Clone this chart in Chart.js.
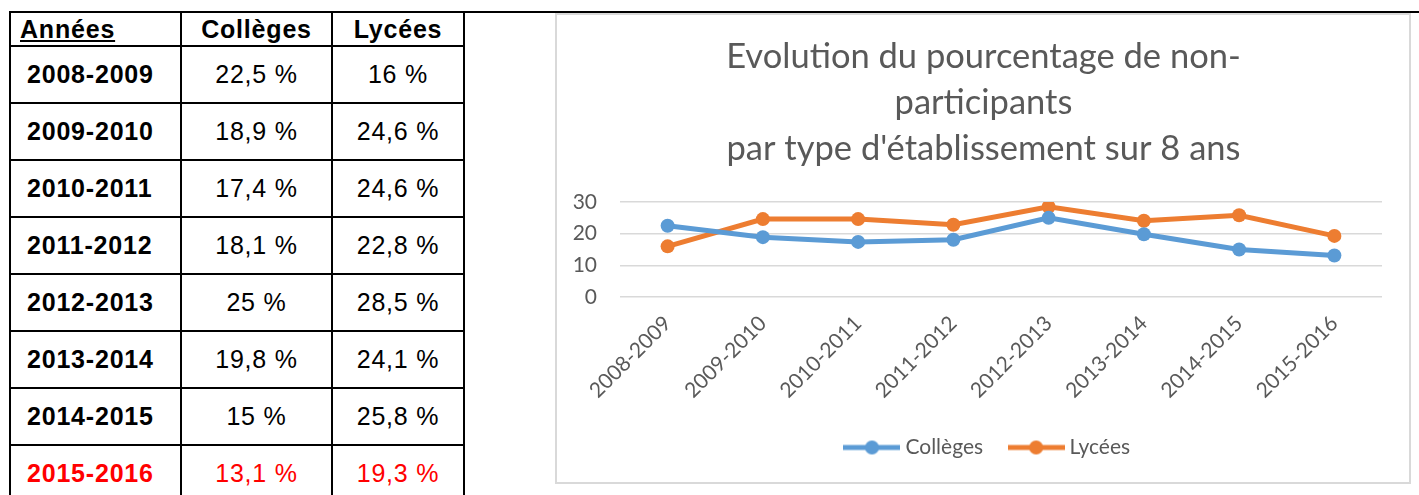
<!DOCTYPE html>
<html>
<head>
<meta charset="utf-8">
<script src="https://cdn.jsdelivr.net/npm/chart.js@4"></script>
<style>
    body { margin: 0; background: #fff; width: 1419px; height: 495px; overflow: hidden; position: relative; }
    .topline { position: absolute; left: 10px; top: 11px; width: 1409px; height: 2px; background: #000; }
    table { position: absolute; left: 9px; top: 11px; border-collapse: collapse; table-layout: fixed;
        font-family: "Liberation Sans", Arial, sans-serif; font-size: 25px; letter-spacing: 0.8px; color: #000; }
    td, th { border: 2px solid #000; padding: 0; text-align: center; font-weight: normal; }
    th { font-weight: bold; height: 32px; }
    th.first { text-align: left; padding-left: 9px; text-decoration: underline; }
    td { height: 55px; }
    td.year { text-align: left; padding-left: 16px; font-weight: bold; }
    tr.red td { color: #ff0000; }
    .box { position: absolute; left: 555px; top: 13px; width: 852px; height: 467px; border: 2px solid #d9d9d9; }
</style>
</head>
<body>
<div class="topline"></div>
<table id="tbl">
    <colgroup><col style="width:171px"><col style="width:151px"><col style="width:132px"></colgroup>
    <thead><tr id="head"></tr></thead>
    <tbody id="rows"></tbody>
</table>
<div class="box"><canvas id="lineChart" width="852" height="467"></canvas></div>

<script>
// Données
const categories = ["2008-2009", "2009-2010", "2010-2011", "2011-2012", "2012-2013", "2013-2014", "2014-2015", "2015-2016"];
const colleges = [22.5, 18.9, 17.4, 18.1, 25, 19.8, 15, 13.1];
const lycees = [16, 24.6, 24.6, 22.8, 28.5, 24.1, 25.8, 19.3];
const headers = ["Années", "Collèges", "Lycées"];
const seriesNames = ["Collèges", "Lycées"];
const yTicks = [0, 10, 20, 30];
const titleLines = ["Evolution du pourcentage de non-", "participants", "par type d'établissement sur 8 ans"];
const highlighted = "2015-2016";

const blue = "#5B9BD5";
const orange = "#ED7D31";

// Tableau
function fmt(v) {
    return String(v).replace(".", ",") + " %";
}

const head = document.getElementById("head");
headers.forEach((h, i) => {
    const th = document.createElement("th");
    th.textContent = h;
    if (i === 0) th.className = "first";
    head.appendChild(th);
});

const rows = document.getElementById("rows");
categories.forEach((c, i) => {
    const tr = document.createElement("tr");
    if (c === highlighted) tr.className = "red";
    tr.innerHTML = '<td class="year">' + c + '</td><td>' + fmt(colleges[i]) + '</td><td>' + fmt(lycees[i]) + '</td>';
    rows.appendChild(tr);
});

// Marqueur de légende (ligne + rond)
function legendMarker(color) {
    const c = document.createElement("canvas");
    c.width = 57;
    c.height = 16;
    const g = c.getContext("2d");
    g.strokeStyle = color;
    g.lineWidth = 5;
    g.beginPath();
    g.moveTo(0, 8);
    g.lineTo(57, 8);
    g.stroke();
    g.fillStyle = color;
    g.beginPath();
    g.arc(28.5, 8, 7, 0, Math.PI * 2);
    g.fill();
    return c;
}

// recentre titre et légende sur tout le cadre
const boxShift = {
    id: "boxShift",
    afterLayout(chart) {
        chart.legend.left += 20;
        chart.legend.right += 20;
        chart.titleBlock.left += 14;
        chart.titleBlock.right += 14;
    }
};

// Graphique
Chart.defaults.font.family = "Lato, 'Open Sans', sans-serif";
Chart.defaults.color = "#595959";

const ctx = document.getElementById("lineChart");

new Chart(ctx, {
    type: "line",
    data: {
        labels: categories,
        datasets: [
            {
                label: seriesNames[0],
                data: colleges,
                borderColor: blue,
                backgroundColor: blue,
                borderWidth: 5,
                pointRadius: 7,
                pointBorderWidth: 0,
                pointBackgroundColor: blue,
                pointStyle: "circle",
                tension: 0
            },
            {
                label: seriesNames[1],
                data: lycees,
                borderColor: orange,
                backgroundColor: orange,
                borderWidth: 5,
                pointRadius: 7,
                pointBorderWidth: 0,
                pointBackgroundColor: orange,
                pointStyle: "circle",
                tension: 0
            }
        ]
    },
    options: {
        responsive: false,
        animation: false,
        layout: {
            padding: { left: 0, right: 27, top: 0, bottom: 14 }
        },
        plugins: {
            title: {
                display: true,
                text: titleLines,
                color: "#595959",
                font: { size: 34.5, weight: "normal", lineHeight: 46 / 34.5 },
                padding: { top: 19, bottom: 30 }
            },
            legend: {
                position: "bottom",
                labels: {
                    usePointStyle: true,
                    pointStyleWidth: 46,
                    padding: 30,
                    color: "#595959",
                    font: { size: 21 },
                    generateLabels: (chart) => chart.data.datasets.map((ds, i) => ({
                        text: ds.label,
                        pointStyle: legendMarker(ds.borderColor),
                        fillStyle: ds.borderColor,
                        strokeStyle: ds.borderColor,
                        lineWidth: 0,
                        fontColor: "#595959",
                        datasetIndex: i,
                        hidden: false
                    }))
                }
            },
            tooltip: { enabled: false }
        },
        scales: {
            x: {
                offset: true,
                grid: { display: false, drawTicks: false },
                border: { display: false },
                ticks: {
                    minRotation: 45,
                    maxRotation: 45,
                    padding: 14,
                    font: { size: 21 },
                    color: "#595959"
                },
                afterFit: (scale) => { scale.height = 110; }
            },
            y: {
                min: 0,
                max: yTicks[yTicks.length - 1],
                afterBuildTicks: (scale) => { scale.ticks = yTicks.map(v => ({ value: v })); },
                grid: { color: "#d9d9d9", lineWidth: 1.5, drawTicks: false },
                border: { display: false },
                ticks: {
                    padding: 23,
                    font: { size: 21 },
                    color: "#595959"
                },
                afterFit: (scale) => { scale.width = 63; }
            }
        }
    },
    plugins: [boxShift]
});
</script>
</body>
</html>
